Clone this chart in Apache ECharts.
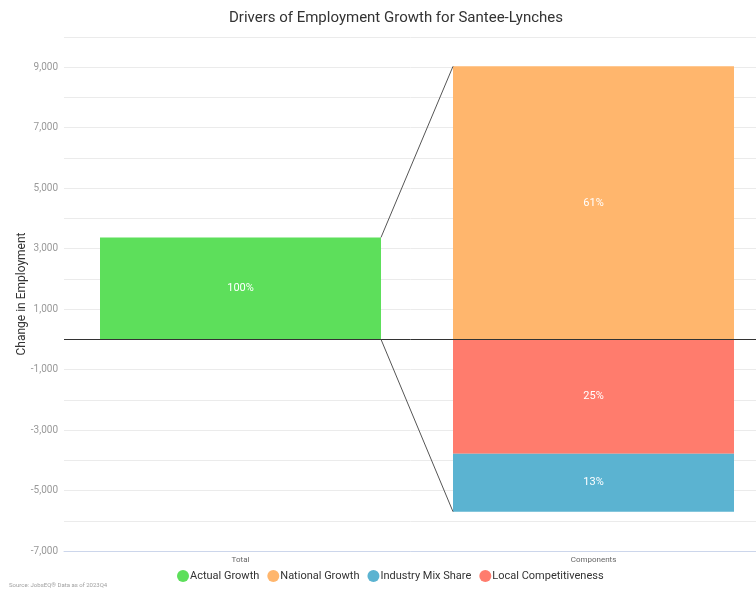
<!DOCTYPE html>
<html>
<head>
<meta charset="utf-8">
<title>Drivers of Employment Growth for Santee-Lynches</title>
<script src="https://cdn.jsdelivr.net/npm/echarts@6/dist/echarts.min.js"></script>
<style>
  html, body { margin: 0; padding: 0; background: #fff; }
  #chart { width: 756px; height: 589px; }
</style>
</head>
<body>
<div id="chart"></div>
<script>
// Shift-share components of employment change
const categories = ['Total', 'Components'];
const actualGrowth = [3370, '-'];
const nationalGrowth = ['-', 9030];
const localCompetitiveness = ['-', -3780];
const industryMixShare = ['-', -1920];

const actualPct = ['100%', ''];
const nationalPct = ['', '61%'];
const localPct = ['', '25%'];
const industryPct = ['', '13%'];

const legendNames = ['Actual Growth', 'National Growth', 'Industry Mix Share', 'Local Competitiveness'];

const colors = {
  actual: '#5ddf5b',
  national: '#ffb66d',
  industry: '#5bb3d1',
  local: '#ff7c6d'
};

// Connector lines: top of total -> top of components, base of total -> bottom of components
const compTop = nationalGrowth[1];
const compBottom = localCompetitiveness[1] + industryMixShare[1];
const connectors = [
  [0, actualGrowth[0], compTop],
  [0, 0, compBottom]
];

const BAR_RATIO = 0.796;
const fontFamily = 'Roboto, "Noto Sans", sans-serif';

function barLabel(pcts) {
  return {
    show: true,
    position: 'inside',
    color: '#ffffff',
    fontSize: 11,
    fontFamily: fontFamily,
    formatter: p => pcts[p.dataIndex]
  };
}

const chart = echarts.init(document.getElementById('chart'), null, { renderer: 'canvas' });

const barWidth = 281;

chart.setOption({
  animation: false,
  textStyle: { fontFamily: fontFamily },
  title: {
    text: 'Drivers of Employment Growth for Santee-Lynches',
    left: 391,
    textAlign: 'center',
    top: 6,
    textStyle: { fontSize: 15, fontWeight: 'normal', color: '#333333', fontFamily: fontFamily }
  },
  legend: {
    data: legendNames,
    left: 172,
    top: 565,
    icon: 'circle',
    itemWidth: 12,
    itemHeight: 12,
    itemGap: 8,
    textStyle: { fontSize: 11, color: '#333333', padding: [0, 0, 0, -4] }
  },
  grid: { left: 64, top: 37, width: 706, height: 514, containLabel: false, outerBoundsMode: 'none' },
  xAxis: {
    type: 'category',
    data: categories,
    axisLine: { onZero: false, lineStyle: { color: '#ccd6eb' } },
    axisTick: { show: false },
    axisLabel: { color: '#666666', fontSize: 8, margin: 5 }
  },
  yAxis: {
    type: 'value',
    min: -7000,
    max: 10000,
    interval: 1000,
    name: 'Change in Employment',
    nameLocation: 'middle',
    nameGap: 36,
    nameMoveOverlap: false,
    nameTextStyle: { color: '#333333', fontSize: 12 },
    axisLine: { show: false },
    axisTick: { show: false },
    splitLine: { lineStyle: { color: '#ebebeb' } },
    axisLabel: {
      color: '#999999',
      fontSize: 10,
      margin: 6,
      formatter: v => (v % 2000 !== 0 ? v.toLocaleString('en-US') : '')
    }
  },
  graphic: [{
    type: 'text',
    left: 9,
    top: 582,
    style: { text: 'Source: JobsEQ® Data as of 2023Q4', fontSize: 6, fill: '#a0a0a0', fontFamily: fontFamily }
  }],
  series: [
    {
      name: 'Actual Growth',
      type: 'bar',
      stack: 'total',
      data: actualGrowth,
      barWidth: barWidth,
      barGap: '-100%',
      itemStyle: { color: colors.actual },
      label: barLabel(actualPct),
      markLine: {
        silent: true,
        symbol: 'none',
        label: { show: false },
        lineStyle: { color: '#333333', width: 1, type: 'solid' },
        data: [{ yAxis: 0 }]
      }
    },
    {
      name: 'National Growth',
      type: 'bar',
      stack: 'comp',
      data: nationalGrowth,
      barWidth: barWidth,
      barGap: '-100%',
      itemStyle: { color: colors.national },
      label: barLabel(nationalPct)
    },
    {
      name: 'Local Competitiveness',
      type: 'bar',
      stack: 'comp',
      data: localCompetitiveness,
      barWidth: barWidth,
      barGap: '-100%',
      itemStyle: { color: colors.local },
      label: barLabel(localPct)
    },
    {
      name: 'Industry Mix Share',
      type: 'bar',
      stack: 'comp',
      data: industryMixShare,
      barWidth: barWidth,
      barGap: '-100%',
      itemStyle: { color: colors.industry },
      label: barLabel(industryPct)
    },
    {
      name: 'connectors',
      type: 'custom',
      silent: true,
      encode: { x: 0, y: 1 },
      data: connectors,
      z: 5,
      renderItem: function (params, api) {
        const from = api.coord([0, api.value(1)]);
        const to = api.coord([1, api.value(2)]);
        const half = api.size([1, 0])[0] * BAR_RATIO / 2;
        return {
          type: 'line',
          shape: { x1: from[0] + half, y1: from[1], x2: to[0] - half, y2: to[1] },
          style: { stroke: '#555555', lineWidth: 1 }
        };
      }
    }
  ]
});
</script>
</body>
</html>
